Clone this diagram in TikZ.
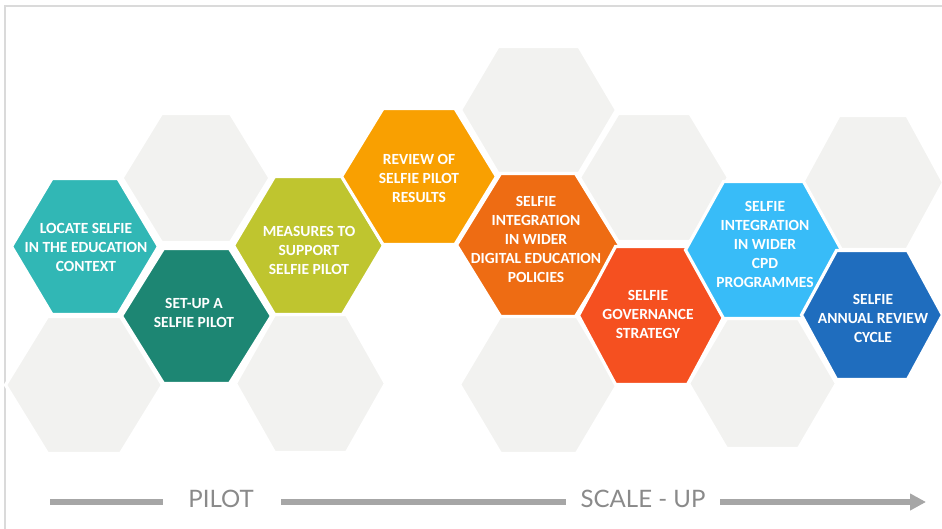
\documentclass[tikz,border=0pt]{standalone}
\usepackage{fontspec}
\setmainfont{Carlito}
\newfontfamily\axisfont{Lato}
\usetikzlibrary{arrows.meta}
\definecolor{cTeal}{HTML}{31B7B5}
\definecolor{cDTeal}{HTML}{1D8673}
\definecolor{cOlive}{HTML}{BFC52F}
\definecolor{cOrange}{HTML}{F9A001}
\definecolor{cDOrange}{HTML}{EE6C13}
\definecolor{cRed}{HTML}{F55020}
\definecolor{cLBlue}{HTML}{38BCF8}
\definecolor{cBlue}{HTML}{1F6DBE}
\definecolor{cGray}{HTML}{F2F2F0}
\definecolor{cFrame}{HTML}{DADADA}
\definecolor{cAxis}{HTML}{A6A6A6}
\definecolor{cAxisText}{HTML}{8A8A8A}
% #1 colour, #2 cx, #3 cy, #4 half width, #5 half height, #6 half top edge
\newcommand{\hexcell}[6]{%
  \path[draw=white,line width=3.2pt,line join=miter,fill=#1]
    ({#2-#4-1.5},{#3}) -- ({#2-#6-1},{#3-#5-1.5}) -- ({#2+#6+1},{#3-#5-1.5})
    -- ({#2+#4+1.5},{#3}) -- ({#2+#6+1},{#3+#5+1.5}) -- ({#2-#6-1},{#3+#5+1.5}) -- cycle;}
\tikzset{
  hextext/.style={text=white,align=center,font=\fontsize{15.5}{19}\selectfont\bfseries,inner sep=0pt},
  axisline/.style={draw=cAxis,line width=5.5pt},
  axislabel/.style={text=cAxisText,font=\axisfont\fontsize{24}{28}\selectfont,inner sep=0pt,anchor=base}
}
\begin{document}
\begin{tikzpicture}[x=1pt,y=-1pt]
\useasboundingbox (0,0) rectangle (942,529);
\fill[white] (0,0) rectangle (942,529);
% frame
\coordinate (frTR) at (942,6);
\coordinate (frTL) at (5,6);
\coordinate (frBL) at (5,529);
\draw[cFrame,line width=1.6pt] (frTR) -- (frTL) -- (frBL);
% grey cells
\hexcell{cGray}{196}{178}{72.5}{63}{33.5}
\hexcell{cGray}{84}{385}{77}{67}{35.5}
\hexcell{cGray}{310.5}{383.5}{73.5}{67.5}{35}
\hexcell{cGray}{538.5}{110}{76.5}{62}{39.5}
\hexcell{cGray}{654}{177.5}{73}{62.5}{35}
\hexcell{cGray}{873}{182.5}{69}{65.5}{33}
\hexcell{cGray}{538.5}{384.5}{77.5}{67.5}{37}
\hexcell{cGray}{762.5}{383.5}{72.5}{63.5}{35}
% coloured cells
\hexcell{cTeal}{85}{246.5}{72}{66.5}{32}
\hexcell{cDTeal}{196.5}{316}{73.5}{66}{32}
\hexcell{cOlive}{308.5}{245.5}{73.5}{67.5}{33}
\hexcell{cOrange}{419}{176.5}{76}{66.5}{35}
\hexcell{cDOrange}{538}{245}{80}{70}{36.5}
\hexcell{cRed}{651.5}{315.5}{71.5}{67.5}{35}
\hexcell{cLBlue}{763.5}{250}{76.5}{67}{39}
\hexcell{cBlue}{872}{315}{69}{63}{34.5}
% texts
\node[hextext] (locate) at (86,247) {LOCATE SELFIE\\IN THE EDUCATION\\CONTEXT};
\node[hextext] (setup) at (194,313) {SET-UP A\\SELFIE PILOT};
\node[hextext] (measures) at (309,250) {MEASURES TO\\SUPPORT\\SELFIE PILOT};
\node[hextext] (review) at (419,178) {REVIEW OF\\SELFIE PILOT\\RESULTS};
\node[hextext] (digital) at (536,239) {SELFIE\\INTEGRATION\\IN WIDER\\DIGITAL EDUCATION\\POLICIES};
\node[hextext] (governance) at (648,314) {SELFIE\\GOVERNANCE\\STRATEGY};
\node[hextext] (cpd) at (765,244.5) {SELFIE\\INTEGRATION\\IN WIDER\\CPD\\PROGRAMMES};
\node[hextext] (annual) at (873,318) {SELFIE\\ANNUAL REVIEW\\CYCLE};
% axis
\node[axislabel] (pilot) at (221,507) {PILOT};
\node[axislabel] (scaleup) at (643,507) {SCALE - UP};
\coordinate (a1s) at (50,502);
\coordinate (a1e) at (163,502);
\coordinate (a2s) at (281,502);
\coordinate (a2e) at (566,502);
\coordinate (a3s) at (720,502);
\coordinate (a3e) at (926,502);
\draw[axisline] (a1s) -- (a1e);
\draw[axisline] (a2s) -- (a2e);
\draw[axisline,-{Triangle[length=16pt,width=16pt]}] (a3s) -- (a3e);
\end{tikzpicture}
\end{document}
